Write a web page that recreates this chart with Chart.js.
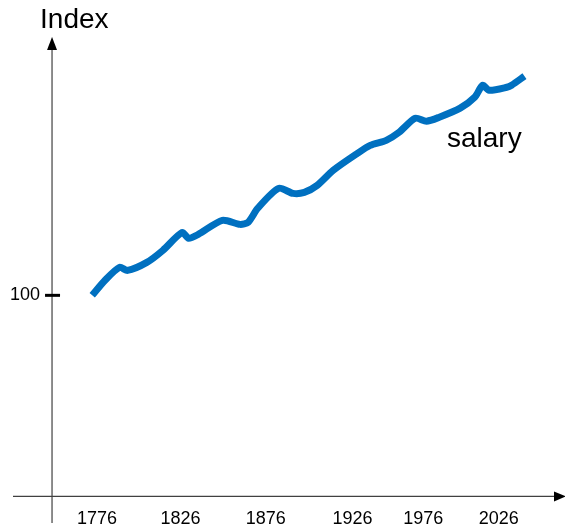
<!DOCTYPE html>
<html>
<head>
<meta charset="utf-8">
<script src="https://cdn.jsdelivr.net/npm/chart.js@4"></script>
<style>
  html, body { margin: 0; padding: 0; background: #fff; }
  #wrap { width: 565px; height: 531px; }
</style>
</head>
<body>
<div id="wrap"><canvas id="myChart" width="565" height="531"></canvas></div>
<script>
// salary index line
var years = [1773, 1781, 1790, 1795, 1807, 1817, 1829, 1833, 1839, 1854, 1865, 1870, 1876, 1889,
             1898, 1905, 1913, 1923, 1938, 1946, 1956, 1964, 1974, 1981, 1989, 2002, 2011, 2016,
             2020, 2031, 2034, 2042];
var salary = [100, 107.5, 113.9, 112.4, 116.4, 122.4, 131.3, 128.4, 130.3, 137.3, 135.3, 136.3, 143.3, 153.2,
              150.7, 151.2, 154.7, 162.2, 170.6, 174.6, 177.1, 181.1, 188.1, 186.6, 188.6, 193.1, 198.5, 204.5,
              202, 203.5, 204.5, 209];

var xTickAt = [1776, 1828, 1881, 1935, 1979, 2026];
var xTickLabels = ['1776', '1826', '1876', '1926', '1976', '2026'];
var yTickAt = [100];
var yTickLabels = ['100'];

var seriesName = 'salary';
var yTitle = 'Index';

var points = years.map(function (y, i) { return { x: y, y: salary[i] }; });

// axes with arrows, the 100 tick and the two texts
var axisDecor = {
    id: 'axisDecor',
    beforeDatasetsDraw: function (chart) {
        var c = chart.ctx;
        var a = chart.chartArea;
        var ys = chart.scales.y;
        c.save();
        c.strokeStyle = '#404040';
        c.fillStyle = '#000';
        c.lineWidth = 1.2;
        // y axis
        c.beginPath();
        c.moveTo(a.left, 523);
        c.lineTo(a.left, a.top + 8);
        c.stroke();
        c.beginPath();
        c.moveTo(a.left, a.top - 3);
        c.lineTo(a.left - 5, a.top + 10);
        c.lineTo(a.left + 5, a.top + 10);
        c.closePath();
        c.fill();
        // x axis
        c.beginPath();
        c.moveTo(13, a.bottom);
        c.lineTo(a.right, a.bottom);
        c.stroke();
        c.beginPath();
        c.moveTo(a.right + 11, a.bottom);
        c.lineTo(a.right - 1, a.bottom - 5);
        c.lineTo(a.right - 1, a.bottom + 5);
        c.closePath();
        c.fill();
        // tick at 100
        c.strokeStyle = '#000';
        c.lineWidth = 3;
        yTickAt.forEach(function (v) {
            var py = ys.getPixelForValue(v);
            c.beginPath();
            c.moveTo(a.left - 7, py);
            c.lineTo(a.left + 8, py);
            c.stroke();
        });
        // texts
        c.font = '28px "Liberation Sans", Arial, sans-serif';
        c.textBaseline = 'alphabetic';
        c.textAlign = 'left';
        c.fillText(yTitle, a.left - 12, 28);
        c.fillText(seriesName, 447, 147);
        c.restore();
    }
};

var ctx = document.getElementById('myChart');

var myChart = new Chart(ctx, {
    type: 'line',
    data: {
        datasets: [{
            label: seriesName,
            data: points,
            borderColor: '#0070C0',
            borderWidth: 7,
            borderCapStyle: 'butt',
            borderJoinStyle: 'round',
            pointRadius: 0,
            tension: 0.25,
            fill: false
        }]
    },
    options: {
        responsive: false,
        animation: false,
        layout: { padding: { left: -2, right: 10, top: 40, bottom: -11 } },
        plugins: {
            legend: { display: false },
            tooltip: { enabled: false }
        },
        scales: {
            x: {
                type: 'linear',
                min: 1748,
                max: 2061,
                grid: { display: false, drawTicks: false },
                border: { display: false },
                afterBuildTicks: function (axis) {
                    axis.ticks = xTickAt.map(function (v) { return { value: v }; });
                },
                ticks: {
                    autoSkip: false,
                    maxRotation: 0,
                    padding: 12,
                    color: '#000',
                    font: { family: '"Liberation Sans", Arial, sans-serif', size: 18 },
                    callback: function (v, i) { return xTickLabels[i]; }
                }
            },
            y: {
                min: 0,
                max: 227,
                grid: { display: false, drawTicks: false },
                border: { display: false },
                afterBuildTicks: function (axis) {
                    axis.ticks = yTickAt.map(function (v) { return { value: v }; });
                },
                ticks: {
                    padding: 12,
                    color: '#000',
                    font: { family: '"Liberation Sans", Arial, sans-serif', size: 18 },
                    callback: function (v, i) { return yTickLabels[i]; }
                }
            }
        }
    },
    plugins: [axisDecor]
});
</script>
</body>
</html>
